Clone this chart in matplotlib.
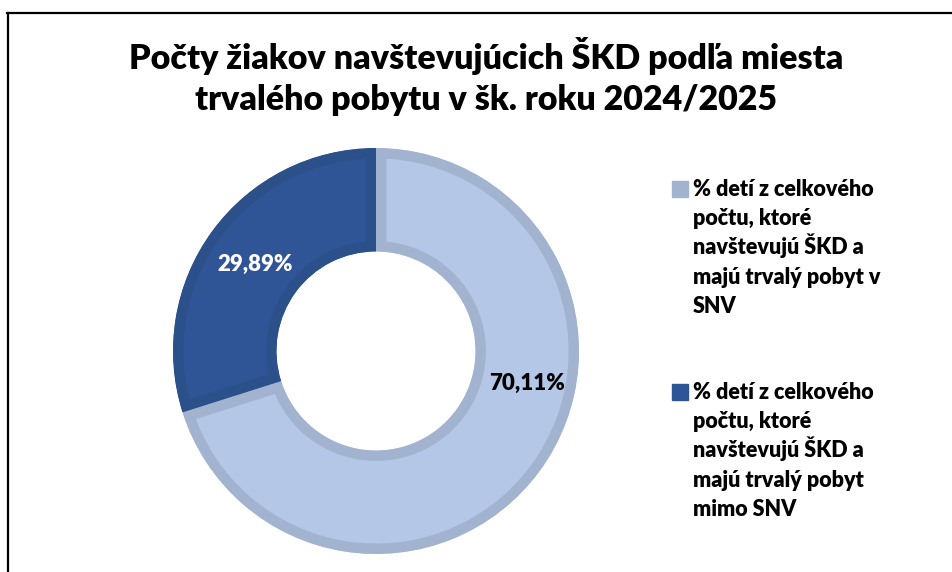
import matplotlib.pyplot as plt
from matplotlib.lines import Line2D
from matplotlib.patches import Rectangle

plt.rcParams['font.family'] = ['Lato', 'DejaVu Sans']

title_lines = ['Počty žiakov navštevujúcich ŠKD podľa miesta',
               'trvalého pobytu v šk. roku 2024/2025']
shares = [70.11, 29.89]
share_labels = ['70,11%', '29,89%']
legend_labels = [
    ['% detí z celkového', 'počtu, ktoré', 'navštevujú ŠKD a', 'majú trvalý pobyt v', 'SNV'],
    ['% detí z celkového', 'počtu, ktoré', 'navštevujú ŠKD a', 'majú trvalý pobyt', 'mimo SNV'],
]
fill_colors = ['#B4C7E7', '#2F5597']
edge_colors = ['#A2B3D0', '#2C5089']
label_colors = ['black', 'white']

W, H = 952, 572
fig = plt.figure(figsize=(W / 100, H / 100), dpi=100)

def fy(py):
    return 1 - py / H

# frame (only top and left edges visible in the crop)
fig.add_artist(Line2D([7.5 / W, 7.5 / W], [0, fy(12.5)], color='black', lw=1.6))
fig.add_artist(Line2D([7 / W, 1], [fy(12.5), fy(12.5)], color='black', lw=1.6))

for i, line in enumerate(title_lines):
    fig.text(486 / W, fy(69 + 41 * i), line, ha='center', va='baseline',
             fontsize=24.5, fontweight='heavy')

# donut
cx, cy, R = 376, H - 351, 203
ax = fig.add_axes([(cx - R) / W, (cy - R) / H, 2 * R / W, 2 * R / H])
wedges, _ = ax.pie(shares, startangle=90, counterclock=False, radius=1,
                   colors=fill_colors,
                   wedgeprops=dict(width=0.51, linewidth=15, joinstyle='miter'))
for w, ec in zip(wedges, edge_colors):
    w.set_edgecolor(ec)
    w.set_clip_path(w)  # keep the border inside each segment
    w.set_clip_on(True)
ax.set_xlim(-1, 1)
ax.set_ylim(-1, 1)
ax.set_aspect('equal')
ax.axis('off')

label_pos = [(0.744, -0.158), (-0.596, 0.429)]
for (x, y), txt, c in zip(label_pos, share_labels, label_colors):
    ax.text(x, y, txt, ha='center', va='center', fontsize=16, fontweight='heavy', color=c)

# legend
legend_tops = [181, 384]
for top, lines, col in zip(legend_tops, legend_labels, [edge_colors[0], fill_colors[1]]):
    fig.add_artist(Rectangle((672 / W, fy(top + 16)), 16 / W, 16 / H,
                             transform=fig.transFigure, color=col))
    for k, line in enumerate(lines):
        fig.text(693 / W, fy(top + 15 + 29.2 * k), line, ha='left', va='baseline',
                 fontsize=15.5, fontweight='heavy')

fig.savefig('out.png', dpi=100)
